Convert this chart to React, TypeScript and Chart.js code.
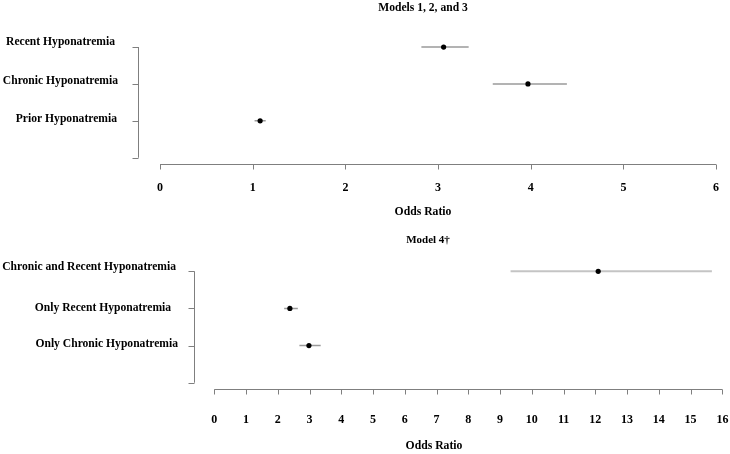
import React, { useEffect, useRef } from "react";
import { Chart, registerables } from "chart.js";

Chart.register(...registerables);

// ---- Data: panel 1 (Models 1, 2, and 3) ----
const topTitle = "Models 1, 2, and 3";
const topLabels = ["Recent Hyponatremia", "Chronic Hyponatremia", "Prior Hyponatremia"];
const topOR = [3.06, 3.97, 1.08];
const topLow = [2.82, 3.59, 1.02];
const topHigh = [3.33, 4.39, 1.14];
const topXTicks = [0, 1, 2, 3, 4, 5, 6];

// ---- Data: panel 2 (Model 4†) ----
const botTitle = "Model 4†";
const botLabels = ["Chronic and Recent Hyponatremia", "Only Recent Hyponatremia ", "Only Chronic Hyponatremia"];
const botOR = [12.09, 2.38, 2.98];
const botLow = [9.33, 2.2, 2.68];
const botHigh = [15.67, 2.63, 3.35];
const botXTicks = [0, 1, 2, 3, 4, 5, 6, 7, 8, 9, 10, 11, 12, 13, 14, 15, 16];

const xTitle = "Odds Ratio";
const FONT = "'Liberation Serif', 'Times New Roman', serif";

type PanelCfg = {
  title: string;
  labels: string[];
  or: number[];
  low: number[];
  high: number[];
  xTicks: number[];
  xMin: number;
  xMax: number;
  padding: { left: number; right: number; top: number; bottom: number };
  titleX: number;
  titleY: number;
  titleSize: number;
  tickLabelDy: number;
  xTitleX: number;
  xTitleY: number;
  labelRight: number[];
  labelDy: number[];
  ciColors: string[];
  ciWidths: number[];
};

function Panel({ cfg }: { cfg: PanelCfg }) {
  const ref = useRef<HTMLCanvasElement | null>(null);
  useEffect(() => {
    const canvas = ref.current;
    if (!canvas) return;
    const n = cfg.labels.length;
    const rAxes = {
      id: "rAxes",
      afterDraw(chart: any) {
        const ctx = chart.ctx as CanvasRenderingContext2D;
        const xs = chart.scales.x;
        const ys = chart.scales.y;
        const area = chart.chartArea;
        ctx.save();
        ctx.strokeStyle = "#7f7f7f";
        ctx.lineWidth = 1;
        // x axis
        const xb = Math.round(area.bottom) + 0.5;
        const x0 = xs.getPixelForValue(cfg.xTicks[0]);
        const x1 = xs.getPixelForValue(cfg.xTicks[cfg.xTicks.length - 1]);
        ctx.beginPath();
        ctx.moveTo(x0, xb);
        ctx.lineTo(x1, xb);
        cfg.xTicks.forEach((t) => {
          const px = Math.round(xs.getPixelForValue(t)) + 0.5;
          ctx.moveTo(px, xb);
          ctx.lineTo(px, xb + 5);
        });
        ctx.stroke();
        // y axis
        const yl = Math.round(area.left) + 0.5;
        const y0 = ys.getPixelForValue(0);
        const y1 = ys.getPixelForValue(n);
        ctx.beginPath();
        ctx.moveTo(yl, y0);
        ctx.lineTo(yl, y1);
        for (let i = 0; i <= n; i++) {
          const py = Math.round(ys.getPixelForValue(i)) + 0.5;
          ctx.moveTo(yl - 6, py);
          ctx.lineTo(yl, py);
        }
        ctx.stroke();
        // text
        ctx.fillStyle = "#000";
        ctx.font = `bold 12px ${FONT}`;
        ctx.textAlign = "center";
        ctx.textBaseline = "middle";
        cfg.xTicks.forEach((t) => {
          ctx.fillText(String(t), xs.getPixelForValue(t), xb + cfg.tickLabelDy);
        });
        ctx.font = `bold 11.6px ${FONT}`;
        ctx.textAlign = "right";
        cfg.labels.forEach((lab, i) => {
          ctx.fillText(lab, cfg.labelRight[i], ys.getPixelForValue(i) + cfg.labelDy[i]);
        });
        ctx.textAlign = "center";
        ctx.font = `bold ${cfg.titleSize}px ${FONT}`;
        ctx.fillText(cfg.title, cfg.titleX, cfg.titleY);
        ctx.font = `bold 11.7px ${FONT}`;
        ctx.fillText(xTitle, cfg.xTitleX, cfg.xTitleY);
        ctx.restore();
      },
    };

    const ciSets = cfg.labels.map((_, i) => ({
      type: "line" as const,
      data: [
        { x: cfg.low[i], y: i },
        { x: cfg.high[i], y: i },
      ],
      borderColor: cfg.ciColors[i],
      borderWidth: cfg.ciWidths[i],
      pointRadius: 0,
      showLine: true,
      fill: false,
      order: 2,
    }));
    const pointSet = {
      type: "scatter" as const,
      data: cfg.labels.map((_, i) => ({ x: cfg.or[i], y: i })),
      backgroundColor: "#000",
      borderColor: "#000",
      pointRadius: 2.6,
      borderWidth: 0,
      order: 1,
    };

    const chart = new Chart(canvas, {
      type: "scatter",
      data: { datasets: [...ciSets, pointSet] as any },
      options: {
        animation: false,
        responsive: false,
        maintainAspectRatio: false,
        layout: { padding: cfg.padding, autoPadding: false },
        plugins: { legend: { display: false }, tooltip: { enabled: false }, title: { display: false } },
        scales: {
          x: { type: "linear", min: cfg.xMin, max: cfg.xMax, display: false },
          y: { type: "linear", min: -0.15, max: n + 0.17, reverse: true, display: false },
        },
      },
      plugins: [rAxes],
    });
    return () => chart.destroy();
  }, [cfg]);
  return <canvas ref={ref} width={730} height={227} style={{ display: "block", width: 730, height: 227 }} />;
}

const topCfg: PanelCfg = {
  title: topTitle,
  labels: topLabels,
  or: topOR,
  low: topLow,
  high: topHigh,
  xTicks: topXTicks,
  xMin: -0.24,
  xMax: 6.15,
  padding: { left: 137.8, right: 0, top: 41.5, bottom: 63 },
  titleX: 423,
  titleY: 8,
  titleSize: 11.6,
  tickLabelDy: 23,
  xTitleX: 423,
  xTitleY: 212,
  labelRight: [115, 118, 117],
  labelDy: [-5, -3, -2],
  ciColors: ["#9a9a9a", "#9a9a9a", "#9a9a9a"],
  ciWidths: [1.5, 1.5, 1.5],
};

const botCfg: PanelCfg = {
  title: botTitle,
  labels: botLabels,
  or: botOR,
  low: botLow,
  high: botHigh,
  xTicks: botXTicks,
  xMin: -0.63,
  xMax: 16.24,
  padding: { left: 194.3, right: 0, top: 38.8, bottom: 65 },
  titleX: 428,
  titleY: 13,
  titleSize: 11,
  tickLabelDy: 30,
  xTitleX: 434,
  xTitleY: 219,
  labelRight: [176, 174, 178],
  labelDy: [-4, 0, -2],
  ciColors: ["#c4c4c4", "#9a9a9a", "#9a9a9a"],
  ciWidths: [2, 1.5, 1.5],
};

export default function App() {
  return (
    <div style={{ position: "absolute", left: 0, top: 0, width: 730, height: 454, background: "#fff" }}>
      <Panel cfg={topCfg} />
      <Panel cfg={botCfg} />
    </div>
  );
}
